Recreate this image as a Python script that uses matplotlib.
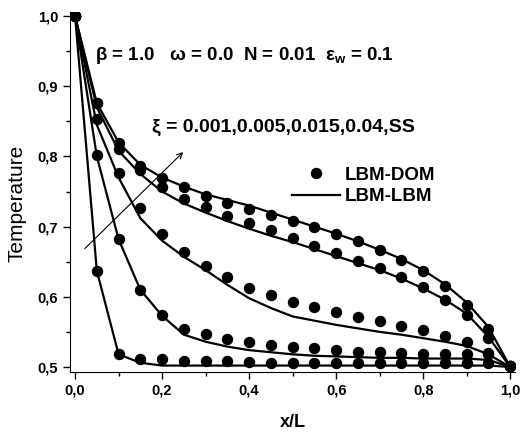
import matplotlib
matplotlib.use("Agg")
import matplotlib.pyplot as plt
from matplotlib.ticker import MultipleLocator, FuncFormatter

plt.rcParams['font.family'] = ['Liberation Sans', 'DejaVu Sans']
plt.rcParams['mathtext.fontset'] = 'custom'
plt.rcParams['mathtext.rm'] = 'Liberation Sans'
plt.rcParams['mathtext.bf'] = 'Liberation Sans:bold'

# x/L positions
x = [0.0, 0.05, 0.1, 0.15, 0.2, 0.25, 0.3, 0.35, 0.4, 0.45, 0.5,
     0.55, 0.6, 0.65, 0.7, 0.75, 0.8, 0.85, 0.9, 0.95, 1.0]

# LBM-DOM (dots), xi = 0.001, 0.005, 0.015, 0.04, SS
dom_001 = [1.0, 0.637, 0.518, 0.512, 0.511, 0.509, 0.509, 0.508, 0.507, 0.506, 0.506,
           0.506, 0.506, 0.506, 0.506, 0.506, 0.506, 0.506, 0.506, 0.506, 0.502]
dom_005 = [1.0, 0.802, 0.682, 0.610, 0.574, 0.554, 0.547, 0.540, 0.536, 0.532, 0.529,
           0.527, 0.524, 0.522, 0.521, 0.520, 0.519, 0.518, 0.518, 0.519, 0.502]
dom_015 = [1.0, 0.853, 0.777, 0.727, 0.690, 0.664, 0.644, 0.628, 0.613, 0.602, 0.593,
           0.586, 0.578, 0.571, 0.565, 0.559, 0.553, 0.544, 0.535, 0.520, 0.502]
dom_04 = [1.0, 0.876, 0.811, 0.780, 0.756, 0.740, 0.728, 0.715, 0.705, 0.695, 0.684,
          0.673, 0.662, 0.651, 0.641, 0.628, 0.614, 0.596, 0.574, 0.541, 0.502]
dom_ss = [1.0, 0.876, 0.819, 0.786, 0.769, 0.756, 0.744, 0.734, 0.725, 0.717, 0.708,
          0.699, 0.689, 0.679, 0.667, 0.653, 0.637, 0.616, 0.588, 0.554, 0.502]

# LBM-LBM (lines)
lbm_001 = [1.0, 0.637, 0.518, 0.506, 0.502, 0.502, 0.502, 0.502, 0.502, 0.502, 0.502,
           0.502, 0.502, 0.502, 0.502, 0.502, 0.502, 0.502, 0.502, 0.502, 0.500]
lbm_005 = [1.0, 0.800, 0.682, 0.610, 0.573, 0.546, 0.536, 0.529, 0.524, 0.521, 0.518,
           0.516, 0.515, 0.514, 0.513, 0.513, 0.512, 0.512, 0.512, 0.510, 0.500]
lbm_015 = [1.0, 0.845, 0.770, 0.712, 0.680, 0.657, 0.638, 0.617, 0.598, 0.584, 0.572,
           0.566, 0.560, 0.555, 0.550, 0.546, 0.541, 0.536, 0.530, 0.518, 0.500]
lbm_04 = [1.0, 0.870, 0.808, 0.775, 0.750, 0.733, 0.720, 0.708, 0.697, 0.687, 0.678,
          0.668, 0.658, 0.648, 0.638, 0.626, 0.612, 0.596, 0.576, 0.543, 0.500]
lbm_ss = [1.0, 0.876, 0.820, 0.788, 0.770, 0.757, 0.746, 0.738, 0.730, 0.720, 0.710,
          0.700, 0.690, 0.679, 0.667, 0.654, 0.638, 0.618, 0.592, 0.557, 0.500]

dom_series = [dom_001, dom_005, dom_015, dom_04, dom_ss]
lbm_series = [lbm_001, lbm_005, lbm_015, lbm_04, lbm_ss]

fig = plt.figure(figsize=(5.23, 4.33), dpi=100)
ax = fig.add_axes([0.134, 0.141, 0.851, 0.831])

for i, (d, l) in enumerate(zip(dom_series, lbm_series)):
    ax.plot(x, l, color="black", lw=1.6, label="LBM-LBM" if i == 0 else None)
    ax.plot(x, d, "o", color="black", ms=7.2, label="LBM-DOM" if i == 0 else None)

ax.set_xlim(-0.0115, 1.0115)
ax.set_ylim(0.4929, 1.0057)

ax.spines["top"].set_visible(False)
ax.spines["right"].set_visible(False)
ax.xaxis.set_major_locator(MultipleLocator(0.2))
ax.xaxis.set_minor_locator(MultipleLocator(0.1))
ax.yaxis.set_major_locator(MultipleLocator(0.1))
ax.yaxis.set_minor_locator(MultipleLocator(0.05))
comma = FuncFormatter(lambda v, p: ("%.1f" % v).replace(".", ","))
ax.xaxis.set_major_formatter(comma)
ax.yaxis.set_major_formatter(comma)
ax.tick_params(which="major", direction="out", length=5, width=1)
ax.tick_params(which="minor", direction="out", length=3, width=1)
for lab in ax.get_xticklabels() + ax.get_yticklabels():
    lab.set_fontweight("bold")
    lab.set_fontsize(10.5)

ax.set_xlabel("x/L", fontsize=13, fontweight="bold", labelpad=12)
ax.set_ylabel("Temperature", fontsize=15)
ax.yaxis.set_label_coords(-0.097, 0.469)

ax.text(0.046, 0.944, r"β = 1.0   ω = 0.0  N = 0.01  ε$_\mathbf{w}$ = 0.1",
        fontsize=13.5, fontweight="bold", va="center")
ax.text(0.177, 0.842, "ξ = 0.001,0.005,0.015,0.04,SS", fontsize=14,
        fontweight="bold", va="center")
ax.annotate("", xy=(0.253, 0.809), xytext=(0.018, 0.666),
            arrowprops=dict(arrowstyle="->", color="black", lw=0.8))

handles, labels = ax.get_legend_handles_labels()
ax.legend(handles[::-1], labels[::-1], loc="upper left", bbox_to_anchor=(0.498, 0.571),
          frameon=False, prop={"size": 13.5, "weight": "bold"}, handlelength=2.6,
          handletextpad=0.25, labelspacing=0.25, borderpad=0, borderaxespad=0)

fig.savefig("out.png", dpi=100)
